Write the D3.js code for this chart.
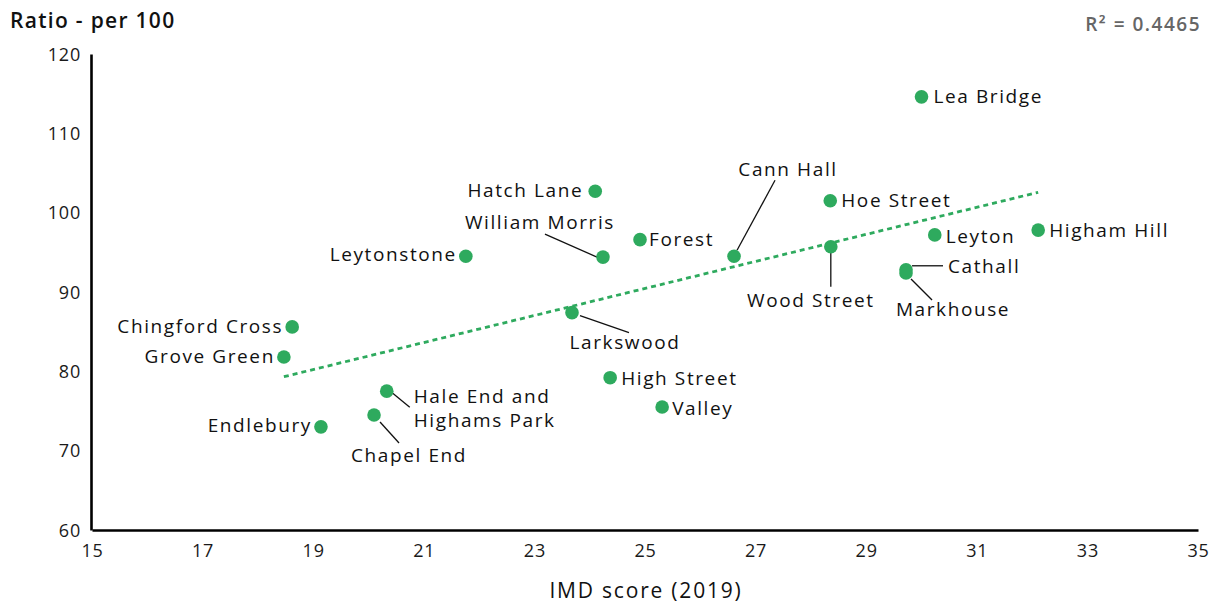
<!DOCTYPE html>
<html><head><meta charset="utf-8">
<script src="https://cdn.jsdelivr.net/npm/d3@7"></script>
<style>
html,body{margin:0;padding:0;background:#fff;}
svg{display:block;font-family:"Open Sans",sans-serif;}
</style></head>
<body>
<svg id="chart" width="1221" height="604"></svg>
<script>
const wards = ["Lea Bridge","Hatch Lane","Hoe Street","William Morris","Forest","Leytonstone","Cann Hall","Wood Street","Leyton","Higham Hill","Cathall","Markhouse","Chingford Cross","Grove Green","Larkswood","High Street","Valley","Hale End and Highams Park","Chapel End","Endlebury"];
const imdScore = [30.0,24.10,28.35,24.24,24.91,21.76,26.61,28.36,30.24,32.11,29.72,29.72,18.62,18.47,23.68,24.37,25.31,20.33,20.10,19.14];
const ratioPer100 = [114.6,102.7,101.5,94.4,96.6,94.5,94.5,95.7,97.2,97.8,92.8,92.4,85.6,81.8,87.4,79.2,75.5,77.5,74.5,73.0];
const xTicks = [15,17,19,21,23,25,27,29,31,33,35];
const yTicks = [60,70,80,90,100,110,120];
const r2Label = "R\u00B2 = 0.4465";

// label layout (pixel offsets from dot): [dx, dy, anchor, leader or null]
const layout = {
  "Lea Bridge":[12,0,"start",null],
  "Hatch Lane":[-12,-1,"end",null],
  "Hoe Street":[11,0,"start",null],
  "William Morris":[-63,-35,"middle",[-58,-23,-6,0]],
  "Forest":[9,0,"start",null],
  "Leytonstone":[-9,-2,"end",null],
  "Cann Hall":[54,-87,"middle",[41,-76,3,-6]],
  "Wood Street":[-20,54,"middle",[0,6,0,40]],
  "Leyton":[11,1,"start",null],
  "Higham Hill":[11,0,"start",null],
  "Cathall":[42,-3,"start",[6,-4,37,-4]],
  "Markhouse":[47,36,"middle",[5,6,26,27]],
  "Chingford Cross":[-9,-1,"end",null],
  "Grove Green":[-9,-1,"end",null],
  "Larkswood":[53,30,"middle",[8,3,57,20]],
  "High Street":[11,1,"start",null],
  "Valley":[10,1,"start",null],
  "Hale End and Highams Park":[27,5,"start",[6,2,23,16]],
  "Chapel End":[35,40,"middle",[6,7,25,28]],
  "Endlebury":[-9,-2,"end",null]
};

const green = "#2eaa5e";
const svg = d3.select("#chart");
const x = d3.scaleLinear().domain([15,35]).range([92,1198]);
const y = d3.scaleLinear().domain([60,120]).range([530,54]);

// axes
const xAxis = svg.append("g").attr("transform","translate(0,530)")
  .call(d3.axisBottom(x).tickValues(xTicks).tickSize(0).tickPadding(14));
const yAxis = svg.append("g").attr("transform","translate(91,0)")
  .call(d3.axisLeft(y).tickValues(yTicks).tickSize(0).tickPadding(10));
[xAxis,yAxis].forEach(a=>{
  a.select(".domain").attr("stroke","#000").attr("stroke-width",2.6);
  a.selectAll("text").attr("font-size",18).attr("fill","#1a1a1a")
    .attr("font-family","Open Sans, sans-serif").attr("letter-spacing","0.8px");
});
yAxis.selectAll("text").attr("dy","0.35em");

// titles
svg.append("text").attr("x",10).attr("y",28).attr("font-size",21).attr("font-weight",600)
  .attr("letter-spacing","1.3px").attr("fill","#111").text("Ratio - per 100");
svg.append("text").attr("x",1201).attr("y",31).attr("text-anchor","end").attr("font-size",19)
  .attr("font-weight",600).attr("letter-spacing","1.5px").attr("fill","#666").text(r2Label);
svg.append("text").attr("x",646).attr("y",598).attr("text-anchor","middle").attr("font-size",21)
  .attr("font-weight",500).attr("letter-spacing","1.8px").attr("fill","#111").text("IMD score (2019)");

// regression trend line
const n = imdScore.length;
const mx = d3.mean(imdScore), my = d3.mean(ratioPer100);
let sxy=0, sxx=0;
for(let i=0;i<n;i++){ sxy+=(imdScore[i]-mx)*(ratioPer100[i]-my); sxx+=(imdScore[i]-mx)**2; }
const slope = sxy/sxx, icpt = my - slope*mx;
const [x0,x1] = d3.extent(imdScore);
svg.append("line")
  .attr("x1",x(x0)).attr("y1",y(icpt+slope*x0))
  .attr("x2",x(x1)).attr("y2",y(icpt+slope*x1))
  .attr("stroke",green).attr("stroke-width",2.8).attr("stroke-dasharray","5,4");

const pts = wards.map((w,i)=>({name:w, xv:imdScore[i], yv:ratioPer100[i]}));

// leaders
pts.forEach(p=>{
  const L = layout[p.name];
  if(L[3]){
    const cx=x(p.xv), cy=y(p.yv);
    svg.append("line").attr("x1",cx+L[3][0]).attr("y1",cy+L[3][1])
      .attr("x2",cx+L[3][2]).attr("y2",cy+L[3][3]).attr("stroke","#111").attr("stroke-width",1.3);
  }
});

// dots
svg.append("g").selectAll("circle").data(pts).join("circle")
  .attr("cx",d=>x(d.xv)).attr("cy",d=>y(d.yv)).attr("r",6.8).attr("fill",green);

// labels
pts.forEach(p=>{
  const L = layout[p.name];
  const cx=x(p.xv)+L[0], cy=y(p.yv)+L[1];
  const t = svg.append("text").attr("x",cx).attr("y",cy).attr("text-anchor",L[2])
    .attr("font-size",19).attr("font-weight",500).attr("letter-spacing","1.6px").attr("fill","#111");
  if(p.name==="Hale End and Highams Park"){
    t.append("tspan").attr("x",cx).attr("dy","0.35em").text("Hale End and");
    t.append("tspan").attr("x",cx).attr("dy","1.26em").text("Highams Park");
  } else {
    t.attr("dy","0.35em").text(p.name);
  }
});
</script>
</body></html>
